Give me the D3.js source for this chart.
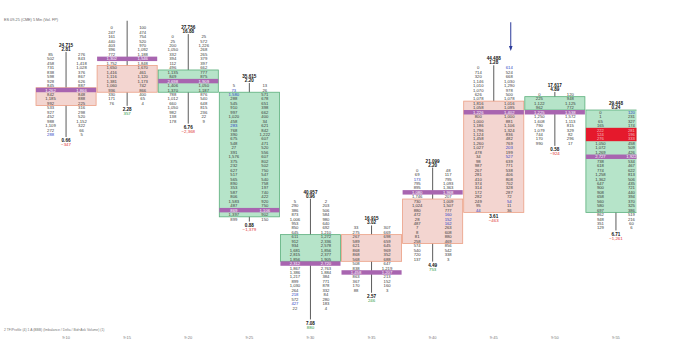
<!DOCTYPE html>
<html><head><meta charset="utf-8">
<script src="https://cdn.jsdelivr.net/npm/d3@7/dist/d3.min.js"></script>
<style>
html,body{margin:0;padding:0;background:#fff;}
svg{display:block;font-family:"Liberation Sans",Arial,sans-serif;}
</style></head>
<body><svg id="c" width="697" height="356"></svg>
<script>
// ---- data ----
const times = ["9:10","9:15","9:20","9:25","9:30","9:35","9:40","9:45","9:50","9:55"];
// price levels (ticks from top)
const highs = [7, 0, 3, 14, 40, 46, 33, 10, 16, 20];
const lows  = [25, 18, 22, 44, 66, 60, 53, 42, 27, 46];
const firstRow = [7, 1, 3, 14, 40, 46, 33, 10, 16, 20];
const bodyTop = [15, 10, 11, 16, 48, 48, 40, 18, 17, 20];
const bodyBot = [18, 15, 15, 43, 53, 53, 49, 42, 19, 42];
const pocs = [15, 8, 13, 42, 54, 56, 38, 20, 20, 30];
const direction = ["down","down","up","up","up","down","down","down","up","up"];
const volumes = ["24,715", "", "27,756", "35,615", "40,957", "16,915", "21,099", "44,488", "17,617", "29,448"];
const ratios = ["2.81", "", "16.88", "2.20", "0.96", "3.02", "2.20", "1.28", "4.89", "0.24"];
const bottomVals = ["0.66", "2.28", "6.76", "0.88", "7.08", "2.57", "4.49", "3.61", "0.58", "6.71"];
const deltas = [-347, 357, -2368, -1379, 880, 246, 753, -463, -924, -1261];
const bids = [
 [85,502,458,731,838,598,928,845,1262,842,1185,992,533,927,452,988,1109,272,288],
 [0,247,161,440,403,396,772,1302,1752,1650,1416,1116,1381,1060,936,330,171,76],
 [0,25,200,1050,332,394,112,496,1135,849,2698,1406,1370,788,1012,660,1050,982,138,178],
 [5,73,1580,288,545,910,997,1020,458,283,768,390,675,548,27,391,1576,375,232,627,517,565,890,353,587,806,1583,487,869,1397,899],
 [5,290,386,873,1006,953,850,645,611,912,934,1681,2815,1856,2312,1867,1386,1217,899,1030,264,218,572,427,22],
 [33,275,267,589,621,868,868,568,508,838,1458,863,367,170,88],
 [0,69,173,795,895,1080,1746,730,1024,880,472,28,487,7,8,81,258,574,540,720,137],
 [0,714,320,1146,1010,1070,626,1078,1816,1058,1226,800,1000,1186,1796,1124,1458,1260,1027,478,34,98,987,267,281,410,374,314,172,282,249,95,44],
 [0,225,1122,962,1225,1250,1608,790,1079,744,170,990],
 [0,1,65,165,222,124,276,1050,1072,1269,2727,738,618,774,1258,1362,647,900,908,658,560,580,697,862,948,351,129]
];
const asks = [
 [276,843,1418,1028,376,867,626,887,1866,848,888,225,316,298,520,1152,322,66,5],
 [100,474,754,520,970,1092,1188,1546,1848,1670,461,1120,1173,742,866,400,65,4],
 [25,572,1226,268,265,379,397,662,777,875,1909,1050,1187,876,540,648,815,236,22,9],
 [13,26,571,678,651,398,662,400,34,621,842,1222,607,471,520,556,607,802,502,750,547,540,758,197,740,422,920,750,1106,902,150],
 [2,203,506,584,980,640,692,1210,1272,2336,2578,1856,2377,1905,2720,2763,1884,384,771,878,332,84,280,183,4],
 [307,669,698,659,645,969,352,688,647,1219,1207,213,152,160,3],
 [48,117,795,1093,1363,1968,207,1009,1507,777,160,152,162,263,608,880,469,856,542,338,3],
 [614,524,668,1030,1290,978,500,1078,1016,1095,1402,1000,881,1106,1324,836,482,769,203,199,527,639,771,538,406,808,702,328,287,72,54,11,36],
 [120,948,1125,772,1538,1572,1113,815,329,82,296,17],
 [120,231,327,174,281,196,333,458,509,426,1922,534,467,622,813,506,435,721,440,394,370,325,386,519,216,60,6]
];
// imbalance cells (row indices) per candle
const bidImb = [[18],[],[],[1,2,9],[21,23],[],[2],[32],[],[]];
const askImb = [[],[],[],[],[],[],[10,11,12],[0,18,20,30],[],[0]];
// highlighted (red) levels per candle
const alertTop = [null,null,null,null,null,null,null,null,null,24];
const alertBot = [null,null,null,null,null,null,null,null,null,26];
const titleText = "ES 09-25 (CME) 5 Min (Vol. FP)";
const footText = "2 TF/Profile (4)      1 A (BBB) (Imbalance / Delta / Bid×Ask Volume) (1)";

// ---- drawing ----
const W = 697, H = 356;
const svg = d3.select("#c");
const y = d3.scaleLinear().domain([0, 70]).range([23.25, 23.25 + 70 * 4.45]);
const rowH = y(1) - y(0);
const x = d3.scaleBand().domain(times).range([35.5, 35.5 + 61.1 * times.length]).padding(0);
const bw = x.bandwidth();
const fmt = d3.format(",");

const colors = {
  upFill: "#b6e4c9", upStroke: "#5aae7b",
  downFill: "#f3d5d0", downStroke: "#eb9f84",
  poc: "#a865b0", alert: "#e5192c",
  text: "#3a3a3a", blue: "#2d3fc4", neg: "#e03434", pos: "#2f9a45", wick: "#4a4a4a"
};

svg.append("defs").append("clipPath").attr("id", "plot")
  .append("rect").attr("x", 0).attr("y", 0).attr("width", 636.5).attr("height", H);

svg.append("text").attr("x", 4).attr("y", 20.5).attr("font-size", 3.8).attr("fill", "#666").text(titleText);
svg.append("text").attr("x", 4).attr("y", 331).attr("font-size", 3.4).attr("fill", "#777").text(footText);

const g = svg.append("g").attr("clip-path", "url(#plot)");

times.forEach((t, i) => {
  const cx = x(t) + bw / 2;
  const up = direction[i] === "up";
  const cg = g.append("g");
  // wick
  cg.append("line").attr("x1", cx).attr("x2", cx)
    .attr("y1", y(highs[i]) - 2.5).attr("y2", y(lows[i]) + 2.5)
    .attr("stroke", colors.wick).attr("stroke-width", 0.9);
  // body
  cg.append("rect").attr("x", x(t) + 0.5).attr("width", bw - 1)
    .attr("y", y(bodyTop[i]) - rowH / 2).attr("height", y(bodyBot[i]) - y(bodyTop[i]) + rowH)
    .attr("fill", up ? colors.upFill : colors.downFill)
    .attr("stroke", up ? colors.upStroke : colors.downStroke).attr("stroke-width", 0.8);
  // alert rows
  if (alertTop[i] !== null) {
    cg.append("rect").attr("x", x(t) + 0.5).attr("width", bw - 1)
      .attr("y", y(alertTop[i]) - rowH / 2).attr("height", y(alertBot[i]) - y(alertTop[i]) + rowH)
      .attr("fill", colors.alert);
  }
  // POC
  cg.append("rect").attr("x", x(t) + 0.5).attr("width", bw - 1)
    .attr("y", y(pocs[i]) - rowH / 2).attr("height", rowH)
    .attr("fill", colors.poc);
  // numbers
  const rows = bids[i].map((b, k) => ({b, a: asks[i][k], lvl: firstRow[i] + k, k}));
  const colOf = (r, side) => {
    if (r.lvl === pocs[i]) return "#ffffff";
    if (alertTop[i] !== null && r.lvl >= alertTop[i] && r.lvl <= alertBot[i]) return "#f4c0c0";
    const imb = side === "b" ? bidImb[i] : askImb[i];
    return imb.includes(r.k) ? colors.blue : colors.text;
  };
  cg.selectAll("text.b").data(rows).join("text").attr("class", "b")
    .attr("x", cx - 15.5).attr("y", d => y(d.lvl) + 1.5)
    .attr("text-anchor", "middle").attr("font-size", 4.2)
    .attr("fill", d => colOf(d, "b")).text(d => fmt(d.b));
  cg.selectAll("text.a").data(rows).join("text").attr("class", "a")
    .attr("x", cx + 15.5).attr("y", d => y(d.lvl) + 1.5)
    .attr("text-anchor", "middle").attr("font-size", 4.2)
    .attr("fill", d => colOf(d, "a")).text(d => fmt(d.a));
  // top labels
  if (volumes[i]) {
    cg.append("text").attr("x", cx).attr("y", y(highs[i]) - 7.6).attr("text-anchor", "middle")
      .attr("font-size", 4.6).attr("font-weight", "bold").attr("fill", "#111").text(volumes[i]);
    cg.append("text").attr("x", cx).attr("y", y(highs[i]) - 3.6).attr("text-anchor", "middle")
      .attr("font-size", 4.6).attr("font-weight", "bold").attr("fill", "#111").text(ratios[i]);
  }
  // bottom labels
  cg.append("text").attr("x", cx).attr("y", y(lows[i]) + 7.6).attr("text-anchor", "middle")
    .attr("font-size", 4.6).attr("font-weight", "bold").attr("fill", "#111").text(bottomVals[i]);
  cg.append("text").attr("x", cx).attr("y", y(lows[i]) + 11.6).attr("text-anchor", "middle")
    .attr("font-size", 4.4).attr("fill", deltas[i] < 0 ? colors.neg : colors.pos).text(fmt(deltas[i]));
});

// arrow marker above candle 8
const ax = x(times[7]) + bw / 2 + 17;
svg.append("line").attr("x1", ax).attr("x2", ax).attr("y1", y(0) - 1).attr("y2", y(6) - 1)
  .attr("stroke", "#2b3a9a").attr("stroke-width", 1);
svg.append("path").attr("d", d3.line()([[ax - 1.8, y(6) - 4], [ax + 1.8, y(6) - 4], [ax, y(6) + 1]]))
  .attr("fill", "#2b3a9a");

// x axis labels
svg.append("g").selectAll("text").data(times).join("text")
  .attr("x", d => x(d) + bw / 2).attr("y", 339).attr("text-anchor", "middle")
  .attr("font-size", 4).attr("fill", "#777").text(d => d);
</script></body></html>
